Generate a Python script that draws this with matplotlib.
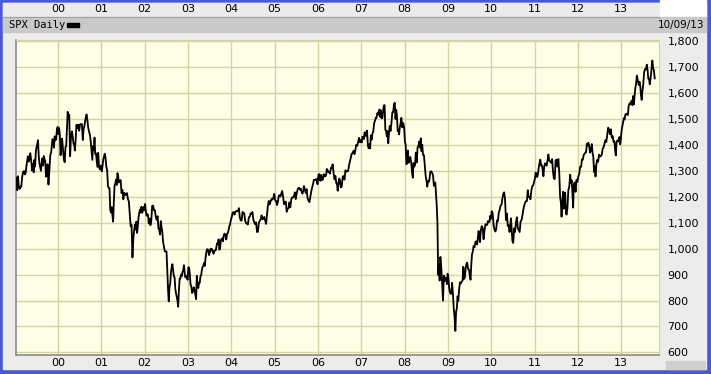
import numpy as np
import pandas as pd
import matplotlib
matplotlib.use("Agg")
import matplotlib.pyplot as plt
import matplotlib.dates as mdates
from matplotlib.patches import Rectangle
from matplotlib.ticker import FuncFormatter, FixedLocator

# ---- data: approximate weekly S&P 500 closes, grouped by month ----
spx_1999 = [[1229, 1275, 1243, 1225, 1279], [1239, 1230, 1239, 1238], [1275, 1295, 1299, 1286],
            [1293, 1319, 1337, 1356, 1335], [1346, 1368, 1338, 1301], [1327, 1294, 1342, 1316, 1372],
            [1391, 1403, 1418, 1356, 1328], [1313, 1300, 1330, 1348, 1320], [1357, 1344, 1336, 1277, 1282],
            [1325, 1247, 1301, 1362], [1370, 1397, 1422, 1416, 1389], [1433, 1417, 1421, 1458, 1469]]
spx_2000 = [[1441, 1465, 1441, 1360, 1394], [1424, 1387, 1346, 1333], [1391, 1395, 1464, 1527, 1499],
            [1516, 1356, 1434, 1452], [1432, 1406, 1400, 1378, 1420], [1477, 1464, 1478, 1454],
            [1478, 1480, 1480, 1419], [1462, 1471, 1491, 1506, 1517], [1495, 1465, 1449, 1436],
            [1408, 1374, 1342, 1396, 1379], [1428, 1365, 1367, 1341, 1315], [1369, 1312, 1305, 1320]]
spx_2001 = [[1298, 1318, 1342, 1354, 1366], [1352, 1315, 1301, 1240], [1234, 1233, 1150, 1139, 1160],
            [1128, 1104, 1183, 1243, 1250], [1266, 1245, 1291, 1278, 1255], [1260, 1264, 1214, 1226],
            [1190, 1215, 1210, 1206], [1214, 1191, 1182, 1134], [1086, 1092, 966, 1040],
            [1071, 1092, 1073, 1104, 1060], [1087, 1120, 1138, 1150, 1139], [1161, 1138, 1145, 1161, 1148]]
spx_2002 = [[1172, 1146, 1127, 1133, 1130], [1097, 1116, 1090, 1107], [1164, 1166, 1148, 1147],
            [1122, 1111, 1125, 1076], [1073, 1054, 1106, 1083, 1067], [1027, 1007, 989, 989],
            [989, 921, 847, 797, 852], [864, 908, 929, 940, 916], [893, 889, 845, 827, 815],
            [800, 776, 841, 884, 885], [900, 894, 910, 917, 936], [906, 889, 895, 889, 880]]
spx_2003 = [[928, 927, 901, 861, 855], [829, 834, 851, 841], [822, 805, 895, 863, 848],
            [868, 868, 893, 898, 917], [930, 933, 945, 933, 963], [987, 998, 995, 975],
            [985, 1000, 993, 998, 990], [980, 990, 993, 993, 1008], [1021, 1018, 1036, 996, 1000],
            [1029, 1038, 1039, 1028, 1050], [1058, 1053, 1035, 1058], [1061, 1074, 1088, 1095, 1112]]
spx_2004 = [[1121, 1139, 1141, 1131], [1142, 1145, 1144, 1145], [1156, 1121, 1109, 1108],
            [1141, 1139, 1135, 1107], [1098, 1096, 1093, 1121], [1123, 1136, 1134, 1141],
            [1112, 1101, 1094, 1101], [1064, 1065, 1099, 1107], [1113, 1128, 1113, 1115],
            [1122, 1108, 1095, 1130], [1166, 1184, 1170, 1182], [1191, 1189, 1195, 1211]]
spx_2005 = [[1186, 1184, 1168, 1181], [1204, 1206, 1201, 1211], [1222, 1201, 1171, 1180],
            [1181, 1142, 1153, 1156], [1178, 1159, 1189, 1198], [1197, 1201, 1217, 1191],
            [1211, 1227, 1234, 1234], [1226, 1230, 1219, 1212, 1220], [1241, 1228, 1215, 1229],
            [1195, 1186, 1179, 1198], [1220, 1234, 1248, 1265], [1263, 1267, 1268, 1248]]
spx_2006 = [[1285, 1287, 1261, 1284], [1264, 1267, 1287, 1280], [1278, 1284, 1307, 1302, 1295],
            [1295, 1289, 1311, 1311], [1325, 1291, 1267, 1280], [1252, 1252, 1223, 1245, 1270],
            [1265, 1236, 1240, 1276], [1280, 1266, 1302, 1296], [1299, 1299, 1321, 1336],
            [1350, 1366, 1368, 1377], [1364, 1380, 1400, 1396], [1409, 1427, 1410, 1418]]
spx_2007 = [[1409, 1431, 1430, 1422, 1448], [1448, 1433, 1455, 1399], [1387, 1402, 1386, 1436, 1420],
            [1443, 1452, 1484, 1494], [1505, 1505, 1522, 1515, 1530], [1536, 1507, 1533, 1502, 1503],
            [1530, 1552, 1553, 1458, 1455], [1433, 1453, 1406, 1446, 1473], [1453, 1484, 1525, 1526],
            [1557, 1562, 1500, 1535, 1509], [1453, 1458, 1440, 1469, 1481], [1504, 1467, 1484, 1468]]
spx_2008 = [[1411, 1401, 1325, 1330, 1378], [1331, 1349, 1353, 1331], [1293, 1273, 1330, 1316, 1322],
            [1370, 1332, 1390, 1397], [1413, 1389, 1425, 1375, 1400], [1361, 1360, 1318, 1278],
            [1262, 1239, 1260, 1257, 1267], [1296, 1298, 1292, 1282], [1242, 1252, 1255, 1213, 1166],
            [1099, 899, 940, 877, 968], [930, 873, 800, 896], [876, 879, 888, 863, 903]]
spx_2009 = [[890, 850, 832, 826, 826], [868, 827, 770, 735], [683, 757, 768, 816, 798],
            [842, 870, 866, 873], [877, 930, 883, 888, 919], [940, 946, 921, 919],
            [896, 880, 940, 979, 987], [1010, 1005, 1026, 1028], [1016, 1042, 1068, 1044, 1025],
            [1071, 1087, 1079, 1036], [1069, 1094, 1092, 1091], [1106, 1102, 1103, 1126, 1115]]
spx_2010 = [[1144, 1136, 1091, 1073], [1066, 1075, 1109, 1105], [1138, 1150, 1166, 1169],
            [1194, 1211, 1217, 1187], [1110, 1135, 1087, 1089], [1064, 1092, 1117, 1076, 1030],
            [1022, 1078, 1064, 1102], [1121, 1079, 1071, 1064], [1104, 1109, 1125, 1148],
            [1165, 1176, 1183, 1183], [1225, 1199, 1199, 1190], [1224, 1240, 1244, 1257]]
spx_2011 = [[1271, 1293, 1283, 1276, 1286], [1310, 1329, 1343, 1320], [1321, 1304, 1279, 1313, 1328],
            [1328, 1320, 1337, 1363], [1340, 1337, 1333, 1331, 1345], [1300, 1271, 1268, 1340],
            [1343, 1316, 1345, 1292], [1200, 1179, 1123, 1177, 1219], [1154, 1162, 1216, 1136, 1131],
            [1155, 1225, 1238, 1285], [1253, 1263, 1216, 1158, 1247], [1255, 1219, 1265, 1258]]
spx_2012 = [[1278, 1289, 1315, 1316], [1344, 1343, 1361, 1366], [1370, 1371, 1404, 1397, 1408],
            [1398, 1370, 1378, 1403], [1369, 1353, 1295, 1317, 1278], [1325, 1342, 1335, 1362],
            [1355, 1357, 1362, 1385], [1391, 1405, 1418, 1411], [1438, 1466, 1460, 1441],
            [1460, 1428, 1433, 1411], [1414, 1380, 1359, 1409, 1416], [1418, 1413, 1430, 1402, 1426]]
spx_2013 = [[1457, 1472, 1486, 1503, 1498], [1517, 1520, 1516, 1515], [1551, 1560, 1556, 1569],
            [1553, 1588, 1555, 1582, 1614], [1633, 1667, 1650, 1631], [1643, 1626, 1592, 1573, 1606],
            [1631, 1680, 1692, 1691], [1709, 1691, 1655, 1656, 1633], [1655, 1688, 1725, 1692],
            [1690, 1656]]

years = list(range(1999, 2014))
yearly = [spx_1999, spx_2000, spx_2001, spx_2002, spx_2003, spx_2004, spx_2005, spx_2006,
          spx_2007, spx_2008, spx_2009, spx_2010, spx_2011, spx_2012, spx_2013]
year_labels = ["00", "01", "02", "03", "04", "05", "06", "07", "08", "09", "10", "11", "12", "13"]
y_ticks = [600, 700, 800, 900, 1000, 1100, 1200, 1300, 1400, 1500, 1600, 1700, 1800]
title_text = "SPX Daily"
date_text = "10/09/13"

# build date/value series (values spread across each month)
dates, values = [], []
for yr, months in zip(years, yearly):
    for mi, vals in enumerate(months):
        start = pd.Timestamp(yr, mi + 1, 1)
        end = start + pd.offsets.MonthBegin(1)
        span = (end - start).days
        k = len(vals)
        last_day = 9 if (yr == 2013 and mi == 9) else span
        for i, v in enumerate(vals):
            d = start + pd.Timedelta(days=last_day * (i + 0.5) / k if not (yr == 2013 and mi == 9) else 1 + (last_day - 1) * i / max(k - 1, 1))
            dates.append(d)
            values.append(v)

W, H = 711, 374
fig = plt.figure(figsize=(W / 100, H / 100), dpi=100)

# background frame drawn in pixel coordinates
bg = fig.add_axes([0, 0, 1, 1])
bg.set_xlim(0, W)
bg.set_ylim(H, 0)
bg.axis("off")
blue = "#4a5ad6"
bg.add_patch(Rectangle((0, 0), W, H, color=blue, zorder=0))
bg.add_patch(Rectangle((3, 3), W - 8, H - 8, color="#ececec", zorder=1))
bg.add_patch(Rectangle((3, 3), 656, 14, color="#ebebeb", zorder=2))
bg.add_patch(Rectangle((660, 0), W - 665, 17, color="white", zorder=2))
bg.add_patch(Rectangle((3, 17), W - 8, 15, color="#c9c9c9", zorder=2))
bg.add_patch(Rectangle((666, 361), 39, 8, color="#cfcfcf", zorder=2))
bg.plot([3, 659], [17, 17], color="#a0a0a0", lw=0.8, zorder=3)

# title & legend in band
bg.text(9, 25, title_text, fontsize=7.5, family="DejaVu Sans Mono", va="center", ha="left", zorder=4)
bg.add_patch(Rectangle((67, 23), 12, 4, color="black", zorder=4))
bg.text(704, 25, date_text, fontsize=7.5, family="DejaVu Sans", va="center", ha="right", zorder=4)

# main axes
left_px, right_px, top_px, bot_px = 16, 659, 40, 355
ax = fig.add_axes([left_px / W, (H - bot_px) / H, (right_px - left_px) / W, (bot_px - top_px) / H])
ax.set_facecolor("#fffee6")
ax.plot(dates, values, color="black", lw=1.3, zorder=3)

ax.set_xlim(pd.Timestamp("1999-01-12"), pd.Timestamp("2013-11-15"))
ax.set_ylim(590, 1804)

year_ticks = [mdates.date2num(pd.Timestamp(2000 + i, 1, 1)) for i in range(len(year_labels))]
ax.xaxis.set_major_locator(FixedLocator(year_ticks))
ax.set_xticklabels(year_labels)
ax.yaxis.set_major_locator(FixedLocator(y_ticks))
ax.yaxis.tick_right()
ax.yaxis.set_major_formatter(FuncFormatter(lambda v, p: f"{int(v):,}"))
ax.tick_params(axis="both", length=0, labelsize=8, colors="black")
ax.tick_params(axis="y", pad=6)
ax.tick_params(axis="x", pad=2)
ax.grid(True, color="#d6d3a2", lw=1.0, zorder=0)
ax.set_axisbelow(True)
for s in ["top", "right"]:
    ax.spines[s].set_color("#d6d3a2")
for s in ["left", "bottom"]:
    ax.spines[s].set_color("#8a8a8a")
    ax.spines[s].set_linewidth(1.2)

# top year labels
import matplotlib.transforms as mtrans
trans = mtrans.blended_transform_factory(ax.transData, fig.transFigure)
for t, lab in zip(year_ticks, year_labels):
    ax.text(t, 1 - 9.5 / H, lab, transform=trans, fontsize=8, ha="center", va="center", clip_on=False)

fig.savefig("out.png", dpi=100)
